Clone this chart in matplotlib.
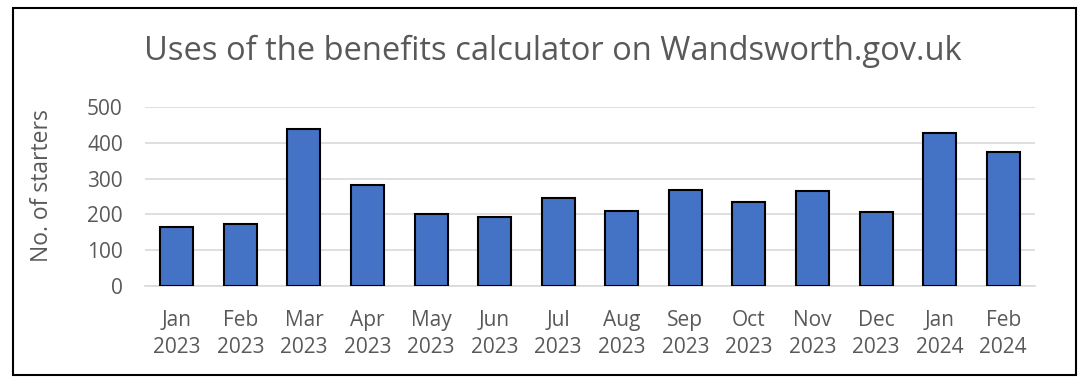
import matplotlib.pyplot as plt
from matplotlib.patches import Rectangle

months = ['Jan\n2023', 'Feb\n2023', 'Mar\n2023', 'Apr\n2023', 'May\n2023', 'Jun\n2023',
          'Jul\n2023', 'Aug\n2023', 'Sep\n2023', 'Oct\n2023', 'Nov\n2023', 'Dec\n2023',
          'Jan\n2024', 'Feb\n2024']
starters = [164, 173, 438, 282, 200, 193, 246, 209, 267, 234, 266, 206, 428, 373]
yticks = [0, 100, 200, 300, 400, 500]

plt.rcParams['font.family'] = ['Open Sans', 'DejaVu Sans']
grey = '#595959'

fig = plt.figure(figsize=(10.89, 3.83), dpi=100)
ax = fig.add_axes([145/1089, 1 - 286/383, 890/1089, 179/383])

x = range(len(months))
ax.bar(x, starters, width=0.52, color='#4472C4', edgecolor='black', linewidth=1.5, zorder=3)

ax.set_xlim(-0.5, len(months) - 0.5)
ax.set_ylim(0, 500)
ax.set_yticks(yticks)
ax.set_xticks(list(x))
ax.set_xticklabels(months, linespacing=1.4)
ax.tick_params(axis='both', length=0, colors=grey, labelsize=15)
ax.tick_params(axis='y', pad=16)
ax.tick_params(axis='x', pad=17)
ax.grid(axis='y', color='#d9d9d9', linewidth=1.2, zorder=0)
for s in ['top', 'right', 'left']:
    ax.spines[s].set_visible(False)
ax.spines['bottom'].set_color('#d9d9d9')
ax.spines['bottom'].set_linewidth(1.2)

ax.set_ylabel('No. of starters', color=grey, fontsize=16.5)
ax.yaxis.set_label_coords(-(145 - 54) / 890, 0.56)
fig.text(0.508, 1 - 51/383, 'Uses of the benefits calculator on Wandsworth.gov.uk',
         ha='center', va='center', fontsize=23.5, color=grey)

# outer chart border
fig.patches.append(Rectangle((13/1089, 1 - 375/383), 1063/1089, 367/383,
                             transform=fig.transFigure, fill=False,
                             edgecolor='black', linewidth=1.5))

plt.savefig('out.png', dpi=100)
